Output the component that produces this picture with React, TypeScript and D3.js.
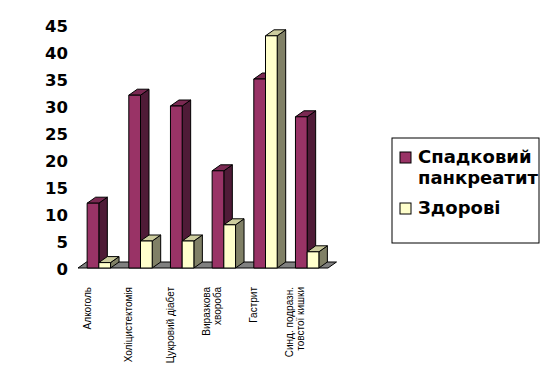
import React from "react";
import * as d3 from "d3";

const width = 549;
const height = 385;

const categories = [
  ["Алкоголь"],
  ["Холіцистектомія"],
  ["Цукровий діабет"],
  ["Виразкова", "хвороба"],
  ["Гастрит"],
  ["Синд. подразн.", "товстої кишки"],
];
const hereditary = [12, 32, 30, 18, 35, 28];
const healthy = [1, 5, 5, 8, 43, 3];
const yTicks = [0, 5, 10, 15, 20, 25, 30, 35, 40, 45];
const seriesNames = ["Спадковий", "панкреатит", "Здорові"];

const dx = 8.5;
const dy = 6;
const barW = 11.7;

const colors = [
  { front: "#993366", side: "#4f1b37", top: "#7a2952" },
  { front: "#ffffcc", side: "#808066", top: "#cccc9e" },
];

const x = d3.scaleBand<number>().domain(d3.range(categories.length)).range([78, 328]);
const y = d3.scaleLinear().domain([0, 45]).range([268, 25]);

function Bar({ x0, v, c }: { x0: number; v: number; c: (typeof colors)[0] }) {
  const x1 = x0 + barW;
  const yb = y(0);
  const yt = y(v);
  const front = `M${x0},${yb}L${x0},${yt}L${x1},${yt}L${x1},${yb}Z`;
  const top = `M${x0},${yt}L${x0 + dx},${yt - dy}L${x1 + dx},${yt - dy}L${x1},${yt}Z`;
  const side = `M${x1},${yb}L${x1},${yt}L${x1 + dx},${yt - dy}L${x1 + dx},${yb - dy}Z`;
  return (
    <g stroke="#000" strokeWidth={1} strokeLinejoin="round">
      <path d={side} fill={c.side} />
      <path d={top} fill={c.top} />
      <path d={front} fill={c.front} />
    </g>
  );
}

export default function App() {
  const x0 = x.range()[0];
  const x1 = x.range()[1];
  const floor = `M${x0},${y(0)}L${x0 + dx},${y(0) - dy}L${x1 + dx},${y(0) - dy}L${x1},${y(0)}Z`;
  return (
    <svg
      width={width}
      height={height}
      viewBox={`0 0 ${width} ${height}`}
      style={{ position: "absolute", left: 0, top: 0, background: "#fff" }}
    >
      <path d={floor} fill="#808080" stroke="#000" strokeWidth={1} />
      {categories.map((_, i) => {
        const bx = (x(i) as number) + (x.bandwidth() - 2 * barW) / 2;
        return (
          <g key={i}>
            <Bar x0={bx} v={hereditary[i]} c={colors[0]} />
            <Bar x0={bx + barW} v={healthy[i]} c={colors[1]} />
          </g>
        );
      })}
      <g fontFamily="DejaVu Sans, sans-serif" fontWeight="bold" fontSize={16.5} textAnchor="end">
        {yTicks.map((t) => (
          <text key={t} x={68} y={y(t) + 1.5} dominantBaseline="central">
            {t}
          </text>
        ))}
      </g>
      <g fontFamily="Liberation Sans, Arial, sans-serif" fontSize={10} textAnchor="end">
        {categories.map((lines, i) => {
          const cx = (x(i) as number) + 9;
          return lines.map((l, j) => {
            const lx = cx + (j - (lines.length - 1) / 2) * 11 + 3.5;
            return (
              <text key={`${i}-${j}`} transform={`translate(${lx},287) rotate(-90)`}>
                {l}
              </text>
            );
          });
        })}
      </g>
      <g>
        <rect x={392} y={138} width={147} height={105} fill="#fff" stroke="#000" strokeWidth={1} />
        <rect x={400} y={152} width={11} height={11} fill={colors[0].front} stroke="#000" strokeWidth={1} />
        <rect x={400} y={203} width={11} height={11} fill={colors[1].front} stroke="#000" strokeWidth={1} />
        <g fontFamily="DejaVu Sans, sans-serif" fontWeight="bold" fontSize={18}>
          <text x={418} y={163}>{seriesNames[0]}</text>
          <text x={418} y={184}>{seriesNames[1]}</text>
          <text x={418} y={214}>{seriesNames[2]}</text>
        </g>
      </g>
    </svg>
  );
}
